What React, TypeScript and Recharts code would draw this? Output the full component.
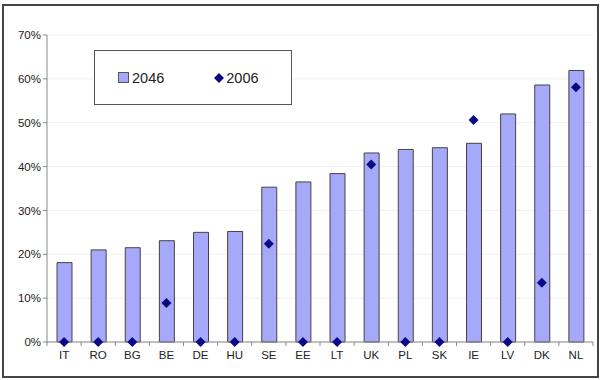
import { ComposedChart, Bar, Scatter, XAxis, YAxis, CartesianGrid } from 'recharts'

const countries = ['IT', 'RO', 'BG', 'BE', 'DE', 'HU', 'SE', 'EE', 'LT', 'UK', 'PL', 'SK', 'IE', 'LV', 'DK', 'NL']
const share2046 = [18.1, 21.0, 21.5, 23.1, 25.0, 25.2, 35.3, 36.5, 38.4, 43.1, 43.9, 44.3, 45.3, 52.0, 58.6, 61.9]
const share2006 = [0, 0, 0, 8.9, 0, 0, 22.4, 0, 0, 40.5, 0, 0, 50.6, 0, 13.5, 58.1]
const yTicks = [0, 10, 20, 30, 40, 50, 60, 70]

const data = countries.map((c, i) => ({ name: c, y2046: share2046[i], y2006: share2006[i] }))

const W = 612
const H = 380
const M = { top: 35, right: 19, bottom: 14, left: 7 }
const Y_W = 40
const band = (W - M.left - M.right - Y_W) / countries.length

const BAR = '#a6a8fa'
const NAVY = '#0a0a86'
const FONT = '"Liberation Sans", Arial, sans-serif'

function Diamond(props: any) {
  const { cx, cy } = props
  const r = 5
  return <polygon points={`${cx},${cy - r} ${cx + r},${cy} ${cx},${cy + r} ${cx - r},${cy}`} fill={NAVY} />
}

function XTick(props: any) {
  const { x, y, payload } = props
  const left = x - band / 2
  return (
    <g>
      <line x1={left} x2={left} y1={y - 8} y2={y - 4} stroke="#888" />
      {payload.index === countries.length - 1 && (
        <line x1={x + band / 2} x2={x + band / 2} y1={y - 8} y2={y - 4} stroke="#888" />
      )}
      <text x={x} y={y + 9} textAnchor="middle" fontSize={11.5} fill="#222" fontFamily={FONT}>
        {payload.value}
      </text>
    </g>
  )
}

function LegendBox() {
  return (
    <div
      style={{
        position: 'absolute',
        left: 94,
        top: 50,
        width: 198,
        height: 55,
        border: '1px solid #555',
        boxSizing: 'border-box',
        background: '#fff',
        display: 'flex',
        alignItems: 'center',
        fontFamily: FONT,
        fontSize: 14.5,
        color: '#222',
      }}
    >
      <span style={{ display: 'inline-block', width: 11, height: 11, background: BAR, border: '1px solid #555', marginLeft: 23, boxSizing: 'border-box' }} />
      <span style={{ marginLeft: 3 }}>2046</span>
      <svg width="12" height="12" style={{ marginLeft: 49 }}>
        <polygon points="6,1 11,6 6,11 1,6" fill={NAVY} />
      </svg>
      <span style={{ marginLeft: 1 }}>2006</span>
    </div>
  )
}

export default function App() {
  return (
    <div style={{ position: 'absolute', left: 0, top: 0, width: W, height: H, background: '#fff' }}>
      <ComposedChart width={W} height={H} data={data} margin={M}>
        <CartesianGrid vertical={false} stroke="#f0f0f0" />
        <XAxis
          dataKey="name"
          stroke="#888"
          tickLine={false}
          tick={<XTick />}
          interval={0}
          height={24}
        />
        <YAxis
          domain={[0, 70]}
          ticks={yTicks}
          width={Y_W}
          stroke="#888"
          tickSize={4}
          tickFormatter={(v: number) => `${v}%`}
          tick={{ fontSize: 11.5, fill: '#222', fontFamily: FONT }}
        />
        <Bar dataKey="y2046" name="2046" fill={BAR} stroke="#444" strokeWidth={1} barSize={15} isAnimationActive={false} />
        <Scatter dataKey="y2006" name="2006" shape={<Diamond />} isAnimationActive={false} />
      </ComposedChart>
      <LegendBox />
      <div
        style={{
          position: 'absolute',
          left: 2,
          top: 4,
          width: 597,
          height: 374,
          border: '2px solid #444',
          boxSizing: 'border-box',
          pointerEvents: 'none',
        }}
      />
    </div>
  )
}
